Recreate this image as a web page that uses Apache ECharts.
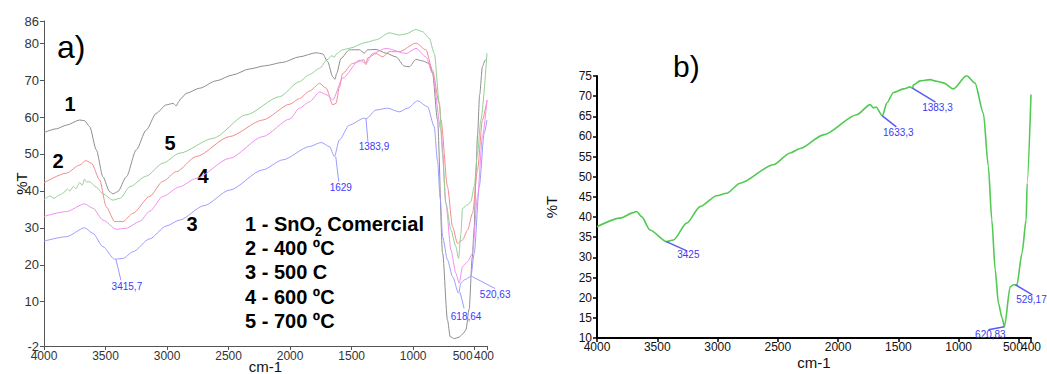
<!DOCTYPE html>
<html><head><meta charset="utf-8">
<script src="https://cdn.jsdelivr.net/npm/echarts@6/dist/echarts.min.js"></script>
<style>html,body{margin:0;padding:0;background:#fff;overflow:hidden}#c{width:1047px;height:374px}</style>
</head><body><div id="c"></div>
<script>
// ---------- DATA ----------
const wnTicks = [4000, 3500, 3000, 2500, 2000, 1500, 1000, 500, 400];
const wnLabels = [4000, 3500, 3000, 2500, 2000, 1500, 1000, 500];
const wnEndLabel = [400];
const yTicksA = [-2, 10, 20, 30, 40, 50, 60, 70, 80, 86];
const curveNames = ['1 - SnO2 Comercial', '2 - 400 ºC', '3 - 500 C', '4 - 600 ºC', '5 - 700 ºC'];

// panel a) series: [wavenumber, %T]
const sno2Comercial = [[4000,55.8],[3900,56.8],[3818,57.8],[3710,59.2],[3670,59.0],[3629,57.4],[3575,51.1],[3521,43.8],[3467,39.8],[3440,39.2],[3400,39.8],[3331,43.8],[3250,51.1],[3169,56.5],[3088,61.0],[3006,63.3],[2950,63.7],[2925,63.0],[2905,64.2],[2885,65.1],[2844,66.4],[2736,67.8],[2601,69.8],[2466,71.4],[2332,73.0],[2200,73.9],[2060,74.8],[1925,76.3],[1789,77.4],[1735,77.1],[1695,75.0],[1654,70.9],[1635,70.2],[1622,71.8],[1586,75.9],[1519,78.2],[1437,78.2],[1397,77.3],[1370,78.2],[1302,78.3],[1221,77.3],[1140,76.3],[1072,73.8],[1032,73.6],[977,75.6],[923,75.2],[869,74.5],[843,72.0],[802,59.2],[761,23.2],[721,5.0],[699,0.5],[666,0.0],[626,0.4],[599,1.2],[572,2.3],[545,8.0],[520,22.0],[504,30.0],[490,45.0],[477,55.0],[460,66.0],[437,73.7],[415,75.4],[400,75.5]];
const t400 = [[4000,42.2],[3818,44.8],[3710,47.0],[3660,48.2],[3614,47.5],[3548,43.0],[3494,35.7],[3426,31.7],[3359,31.7],[3278,33.9],[3142,38.5],[3034,42.6],[2925,45.2],[2763,49.3],[2493,54.7],[2222,59.2],[2000,63.5],[1925,65.0],[1843,67.0],[1760,69.1],[1706,67.8],[1654,63.3],[1627,63.7],[1600,68.0],[1573,71.8],[1492,74.5],[1400,75.5],[1383,74.2],[1370,76.0],[1302,77.2],[1248,76.3],[1194,77.7],[1113,77.7],[977,80.0],[896,78.2],[843,72.7],[788,63.7],[774,59.2],[721,41.1],[680,30.3],[640,25.8],[599,26.7],[558,29.4],[518,33.9],[477,45.7],[437,59.2],[400,64.6]];
const t500 = [[4000,26.4],[3818,27.6],[3670,30.0],[3602,28.5],[3521,24.9],[3426,21.5],[3359,21.7],[3278,23.5],[3142,27.0],[3006,30.5],[2898,32.1],[2700,36.0],[2493,40.2],[2222,45.7],[2060,48.4],[1843,52.0],[1748,53.1],[1680,52.0],[1640,49.3],[1600,53.8],[1519,57.8],[1397,59.7],[1383,59.5],[1302,61.9],[1208,62.4],[1113,61.4],[1045,62.4],[964,64.4],[883,62.8],[829,57.4],[802,48.0],[780,38.0],[761,27.6],[721,21.3],[680,16.8],[631,12.3],[612,15.0],[585,15.9],[531,16.8],[504,23.1],[463,41.1],[423,55.6],[400,59.2]];
const t600 = [[4000,33.1],[3818,34.4],[3670,36.5],[3602,35.3],[3521,32.1],[3412,29.6],[3331,29.9],[3223,31.7],[3140,34.5],[3034,38.5],[2899,41.1],[2763,43.4],[2493,48.8],[2222,54.7],[2000,59.5],[1925,62.4],[1843,64.1],[1760,66.8],[1700,66.0],[1654,64.6],[1573,70.5],[1437,75.4],[1383,74.5],[1330,77.2],[1221,78.6],[1058,77.2],[977,78.6],[896,76.3],[843,71.8],[774,56.5],[734,36.6],[693,24.0],[653,17.7],[626,15.0],[599,19.5],[558,20.8],[518,23.1],[477,38.4],[437,54.7],[400,64.6]];
const t700 = [[4000,37.7],[3950,38.6],[3920,38.0],[3873,38.9],[3840,39.5],[3810,40.5],[3791,40.0],[3760,41.2],[3740,40.6],[3710,42.3],[3690,41.5],[3670,43.2],[3653,42.4],[3630,42.5],[3575,41.0],[3521,39.2],[3440,37.5],[3380,38.0],[3304,41.1],[3169,44.0],[3034,47.5],[2899,50.2],[2628,54.2],[2357,60.6],[2087,65.5],[1923,69.6],[1843,71.5],[1760,73.2],[1700,75.5],[1660,76.6],[1640,76.2],[1627,77.0],[1573,78.2],[1519,78.6],[1383,80.2],[1302,80.9],[1194,82.8],[1113,82.2],[1058,82.5],[977,83.7],[923,83.1],[869,81.3],[828,77.2],[788,64.0],[761,50.2],[734,36.6],[693,29.4],[653,24.9],[631,21.7],[612,28.5],[599,35.3],[558,36.2],[531,37.1],[504,41.1],[477,50.2],[450,59.2],[400,77.3]];

// panel b) series
const sampleB = [[4000,37.6],[3800,39.8],[3700,41.1],[3671,41.4],[3630,40.1],[3560,36.8],[3422,33.9],[3367,34.3],[3256,38.5],[3145,42.6],[3007,45.3],[2924,45.9],[2813,48.4],[2537,53.0],[2398,55.9],[2315,57.0],[2122,60.4],[1845,65.4],[1734,67.9],[1707,67.1],[1685,67.3],[1633,65.1],[1596,68.3],[1541,70.9],[1458,71.8],[1403,72.3],[1383,72.0],[1375,72.8],[1320,73.8],[1237,74.1],[1182,73.7],[1127,73.3],[1044,71.8],[934,75.1],[865,73.3],[795,65.8],[754,52.6],[725,39.3],[697,26.9],[670,18.6],[640,15.0],[620,12.8],[573,22.7],[545,23.2],[517,23.2],[475,31.0],[440,39.3],[432,48.4],[400,70.4]];

// peak annotations [wavenumber, %T]
const peaksA = [[3415.7,21.5],[1629,49.3],[1383.9,59.6],[618.64,12.5],[520.63,16.8]];
const peakLabelsA = ['3415,7','1629','1383,9','618,64','520,63'];
const peaksB = [[3425,33.9],[1633.3,65.1],[1383.3,72.0],[620.83,12.8],[529.17,23.2]];
const peakLabelsB = ['3425','1633,3','1383,3','620,83','529,17'];

// ---------- STYLE ----------
const FONT = '"Liberation Sans", Arial, sans-serif';
const colorsA = ['#8e8e8e', '#f28b8b', '#9d9dff', '#f090f0', '#93cf93'];
// leader line end (lx,ly) and label centre (dx,dy) in px, relative to the peak
const offA = [[5,21,11,27],[3,25,5,31],[2,23,8,28],[4,16,6,24],[23,12,23,18]];
const offB = [[20,9,22,13],[14,11,16,17],[23,14,25,19],[-16,3,-14,8],[17,10,16,15]];

const chart = echarts.init(document.getElementById('c'), null, {renderer: 'svg'});

function xAxis(gi, o) {
  return {
    type: 'value', gridIndex: gi, min: 400, max: 4000, inverse: true,
    name: 'cm-1', nameLocation: 'middle', nameGap: o.nameGap, nameMoveOverlap: false,
    nameTextStyle: {fontFamily: FONT, fontSize: o.nameSize, color: '#111'},
    axisLine: {show: true, onZero: false, lineStyle: {color: o.line, width: o.lw}},
    axisTick: {show: true, customValues: wnTicks, length: 4, lineStyle: {color: o.line, width: o.tw}},
    axisLabel: {show: true, customValues: wnLabels, hideOverlap: false,
      margin: o.margin, fontFamily: FONT, fontSize: o.fs, color: o.lc,
      formatter: v => v === 500 ? '{a|500}' : String(v),
      rich: {a: {fontFamily: FONT, fontSize: o.fs, color: o.lc, padding: [0, o.p500, 0, 0]}}},
    splitLine: {show: false}
  };
}
// second axis on the same grid that only carries the end label "400"
function xEndAxis(gi, o) {
  return {
    type: 'value', gridIndex: gi, min: 400, max: 4000, inverse: true, position: 'bottom',
    axisLine: {show: false, onZero: false}, axisTick: {show: false}, splitLine: {show: false},
    axisLabel: {show: true, customValues: wnEndLabel, hideOverlap: false, showMinLabel: true,
      margin: o.margin, fontFamily: FONT, fontSize: o.fs, color: o.lc,
      formatter: v => '{b|' + v + '}',
      rich: {b: {fontFamily: FONT, fontSize: o.fs, color: o.lc, padding: [0, o.p400, 0, 0]}}}
  };
}

function annSeries(xi, peaks, labels, off, o) {
  return {
    type: 'custom', xAxisIndex: xi, yAxisIndex: xi, data: peaks, z: 5, clip: false,
    renderItem: (params, api) => {
      const p = api.coord([api.value(0), api.value(1)]);
      const f = off[params.dataIndex];
      return {type: 'group', children: [
        {type: 'line', shape: {x1: p[0], y1: p[1], x2: p[0] + f[0], y2: p[1] + f[1]},
         style: {stroke: o.lineColor, lineWidth: o.lw}},
        {type: 'text', x: p[0] + f[2], y: p[1] + f[3],
         style: {text: labels[params.dataIndex], fill: o.textColor, font: o.font, align: 'center', verticalAlign: 'middle'}}
      ]};
    }
  };
}

const seriesA = [sno2Comercial, t400, t500, t600, t700].map((d, i) => ({
  type: 'line', name: curveNames[i], xAxisIndex: 0, yAxisIndex: 0, data: d,
  showSymbol: false, smooth: 0.25, smoothMonotone: 'x',
  lineStyle: {width: 1, color: colorsA[i]}, itemStyle: {color: colorsA[i]}, z: 2
}));

const bold = {fontFamily: FONT, fontWeight: 'bold', fontSize: 20, fill: '#000'};
const numLabels = [['1', 70, 104], ['2', 58, 161], ['3', 192, 224], ['4', 203, 176], ['5', 170, 143]];

const axA = {margin: 4, fs: 12, lc: '#333', p500: 24, p400: 6};
const axB = {margin: 3, fs: 12, lc: '#111', p500: 12, p400: 0};

const option = {
  animation: false,
  backgroundColor: '#fff',
  grid: [
    {left: 44, top: 21, width: 443, height: 325, containLabel: false, outerBoundsMode: 'none'},
    {left: 597, top: 76, width: 434, height: 262, containLabel: false, outerBoundsMode: 'none'}
  ],
  xAxis: [
    xAxis(0, Object.assign({nameGap: 13, nameSize: 15, line: '#555', lw: 1, tw: 1}, axA)),
    xAxis(1, Object.assign({nameGap: 17, nameSize: 15, line: '#000', lw: 2, tw: 1.5}, axB)),
    xEndAxis(0, axA),
    xEndAxis(1, axB)
  ],
  yAxis: [
    {type: 'value', gridIndex: 0, min: -2, max: 86,
     name: '%T', nameLocation: 'middle', nameGap: 15, nameRotate: 90, nameMoveOverlap: false,
     nameTextStyle: {fontFamily: FONT, fontSize: 15, color: '#111'},
     axisLine: {show: true, onZero: false, lineStyle: {color: '#555', width: 1}},
     axisTick: {show: true, customValues: yTicksA, length: 4, lineStyle: {color: '#555'}},
     axisLabel: {customValues: yTicksA, hideOverlap: false, margin: 5, fontFamily: FONT, fontSize: 13, color: '#333'},
     splitLine: {show: false}},
    {type: 'value', gridIndex: 1, min: 10, max: 75, interval: 5,
     name: '%T', nameLocation: 'middle', nameGap: 38, nameRotate: 90, nameMoveOverlap: false,
     nameTextStyle: {fontFamily: FONT, fontSize: 15, color: '#111'},
     axisLine: {show: true, onZero: false, lineStyle: {color: '#000', width: 2}},
     axisTick: {show: true, length: 4, lineStyle: {color: '#000', width: 1.5}},
     axisLabel: {hideOverlap: false, margin: 5, fontFamily: FONT, fontSize: 12, color: '#111'},
     splitLine: {show: false}}
  ],
  series: [
    ...seriesA,
    {type: 'line', name: 'b', xAxisIndex: 1, yAxisIndex: 1, data: sampleB, showSymbol: false,
     smooth: 0.25, smoothMonotone: 'x', lineStyle: {width: 1.6, color: '#52c952'}, z: 2},
    annSeries(0, peaksA, peakLabelsA, offA, {lineColor: '#9a9aff', lw: 1, textColor: '#3a3aff', font: '10px ' + FONT}),
    annSeries(1, peaksB, peakLabelsB, offB, {lineColor: '#5a5af0', lw: 1.5, textColor: '#3a3af5', font: '10px ' + FONT})
  ],
  graphic: [
    {type: 'text', left: 57, top: 31, style: {text: 'a)', fontFamily: FONT, fontSize: 32, fill: '#000'}},
    {type: 'text', left: 673, top: 51, style: {text: 'b)', fontFamily: FONT, fontSize: 30, fill: '#000'}},
    ...numLabels.map(n => ({type: 'text', x: n[1], y: n[2],
      style: Object.assign({text: n[0], align: 'center', verticalAlign: 'middle'}, bold)})),
    {type: 'text', x: 245, y: 224, style: {
      text: '{n|1 - SnO}{s|2}{n| Comercial}', verticalAlign: 'middle',
      rich: {n: Object.assign({verticalAlign: 'middle', lineHeight: 24}, bold),
             s: {fontFamily: FONT, fontWeight: 'bold', fontSize: 12, fill: '#000', lineHeight: 12, padding: [14, 0, 0, 0], verticalAlign: 'top'}}}},
    ...curveNames.slice(1).map((t, i) => ({type: 'text', x: 245, y: 248 + i * 24.4,
      style: Object.assign({text: t, verticalAlign: 'middle'}, bold)}))
  ]
};
chart.setOption(option);
</script>
</body></html>
